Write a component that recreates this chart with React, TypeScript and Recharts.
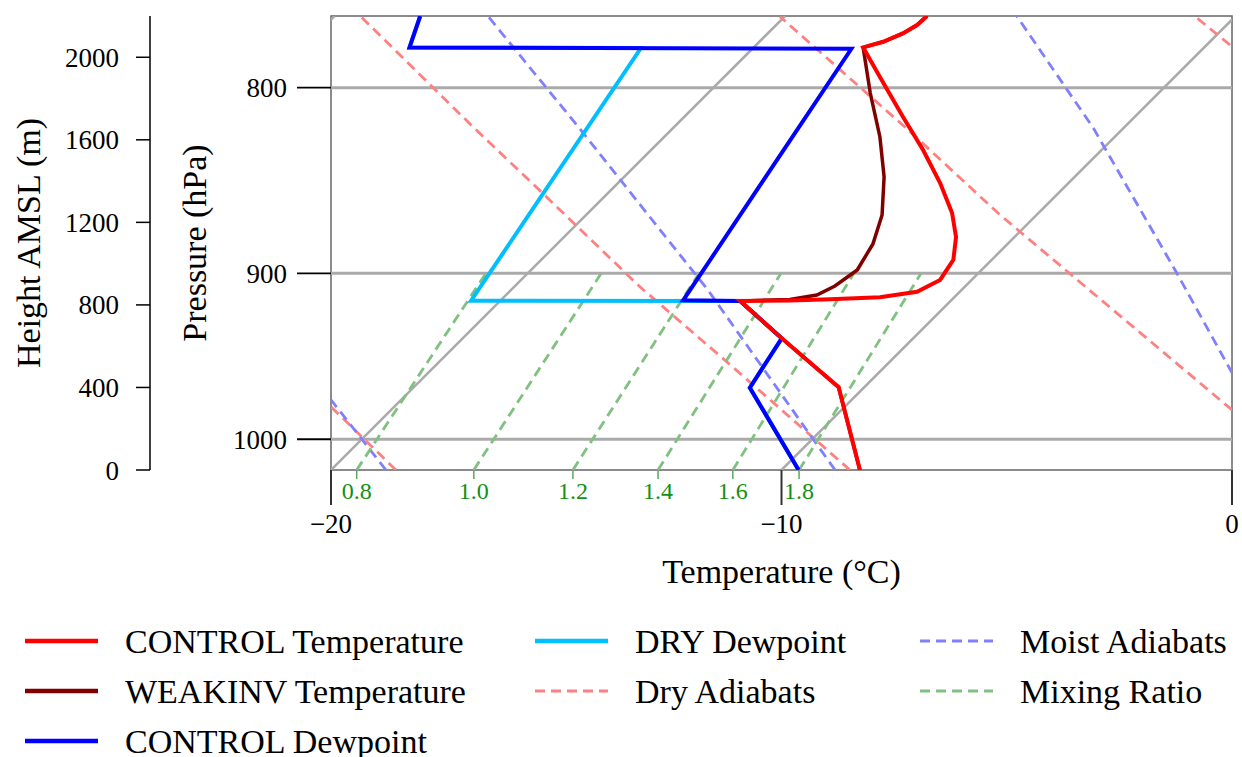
import React from "react";
import { LineChart, Line, XAxis, YAxis, ReferenceLine, ReferenceArea, Label } from "recharts";

const FONT = '"Liberation Serif", "Times New Roman", serif';

// pressure limits of the plot (hPa) and the skew of the temperature axis
const P_BOT = 1019.7;
const P_TOP = 764.4;
const SKEW = 34.98; // °C of horizontal shift per unit of ln(p)

const ISOBARS = [800, 900, 1000];
const ISOTHERMS = [-30, -20, -10, 0];
const TEMP_TICKS = [-20, -10, 0];
const HEIGHT_TICKS = [0, 400, 800, 1200, 1600, 2000];

// profiles: [pressure hPa, temperature °C]
const controlTemp = [
  [1019.7, -8.26], [967.5, -10.57], [937.9, -12.92], [916.0, -14.67],
  [915.7, -13.57], [915.0, -12.71], [913.8, -11.65], [910.6, -10.95],
  [903.8, -10.7], [892.4, -10.85], [879.5, -11.3], [866.2, -11.92],
  [849.9, -12.85], [832.3, -13.96], [815.0, -15.14], [794.6, -16.54],
  [779.8, -17.57], [777.0, -17.25], [772.9, -17.0], [768.8, -16.87], [764.4, -16.85],
];
const weakinvTemp = [
  [1019.7, -8.26], [967.5, -10.57], [937.9, -12.92], [916.0, -14.67],
  [915.1, -13.6], [912.5, -13.1], [907.3, -12.9], [898.1, -12.76],
  [883.4, -12.99], [867.3, -13.43], [846.6, -14.23], [825.4, -15.21],
  [802.7, -16.4], [779.8, -17.57], [777.0, -17.25], [772.9, -17.0], [768.8, -16.87], [764.4, -16.85],
];
const controlDew = [
  [1019.7, -9.62], [967.8, -12.53], [937.9, -12.92], [916.0, -14.67],
  [915.6, -15.95], [780.5, -17.8], [779.8, -27.64], [764.4, -28.1],
];
const dryDew = [
  [1019.7, -9.62], [967.8, -12.53], [937.9, -12.92], [916.0, -14.67],
  [915.8, -20.65], [780.1, -22.49], [779.8, -27.64], [764.4, -28.1],
];

// background lines: [pressure, temperature]
const dryAdiabats = [
  [[1019.7, -18.56], [979.5, -21.41]],
  [[1019.7, -8.48], [952.1, -13.61], [907.9, -17.2], [850.0, -21.9], [820.9, -24.4], [764.4, -29.43]],
  [[981.6, -1.33], [867.3, -10.81], [821.8, -14.73], [764.7, -20.1]],
  [[778.6, -9.48], [764.7, -10.88]],
];
const moistAdiabats = [
  [[1019.7, -18.78], [975.4, -21.55]],
  [[1019.7, -8.81], [1000, -9.98], [944.9, -13.36], [909.6, -15.63], [861.8, -19.02], [821.8, -22.0], [764.4, -26.6]],
  [[959.0, -2.14], [900, -5.59], [820.9, -10.66], [764.4, -14.86]],
];
const MIX_LABELS = ["0.8", "1.0", "1.2", "1.4", "1.6", "1.8"];
const MIX_T_BOTTOM = [-19.43, -16.83, -14.63, -12.74, -11.08, -9.61]; // at P_BOT
const MIX_T_900 = [-20.93, -18.37, -16.2, -14.38, -12.76, -11.27]; // at 900 hPa

const skewed = (pts: number[][]) =>
  pts.map(([p, t]) => ({ x: t + SKEW * Math.log(P_BOT / p), p }));

const GRID = "#aaaaaa";
const DRY = "#ff8080";
const MOIST = "#8080ff";
const MIX = "#80c080";
const DASH = "10 6";

const legendItems = [
  { label: "CONTROL Temperature", color: "#ff0000", dash: false },
  { label: "WEAKINV Temperature", color: "#800000", dash: false },
  { label: "CONTROL Dewpoint", color: "#0000ff", dash: false },
  { label: "DRY Dewpoint", color: "#00bfff", dash: false },
  { label: "Dry Adiabats", color: DRY, dash: true },
  { label: "Moist Adiabats", color: MOIST, dash: true },
  { label: "Mixing Ratio", color: MIX, dash: true },
];

const bg = (key: string, pts: number[][], color: string, width: number, dash?: string, xId = "t") => (
  <Line
    key={key}
    data={skewed(pts)}
    dataKey="p"
    xAxisId={xId}
    yAxisId="a"
    stroke={color}
    strokeWidth={width}
    strokeDasharray={dash}
    dot={false}
    activeDot={false}
    isAnimationActive={false}
    legendType="none"
  />
);

const Legend = () => {
  const colX = [25, 535, 920];
  const perCol = [3, 2, 2];
  let i = 0;
  const out: React.ReactNode[] = [];
  perCol.forEach((n, c) => {
    for (let r = 0; r < n; r++) {
      const it = legendItems[i++];
      const y = 641 + r * 50;
      out.push(
        <g key={it.label}>
          <line
            x1={colX[c]}
            x2={colX[c] + 73}
            y1={y}
            y2={y}
            stroke={it.color}
            strokeWidth={it.dash ? 3 : 4.5}
            strokeDasharray={it.dash ? DASH : undefined}
          />
          <text x={colX[c] + 100} y={y + 12} fontSize={34} fontFamily={FONT} fill="#000">
            {it.label}
          </text>
        </g>
      );
    }
  });
  return (
    <svg width={1242} height={757} style={{ position: "absolute", left: 0, top: 0, pointerEvents: "none" }}>
      {out}
    </svg>
  );
};

export default function App() {
  return (
    <div style={{ position: "absolute", left: 0, top: 0, width: 1242, height: 757, background: "#fff" }}>
      <LineChart width={1242} height={757} margin={{ top: 16, right: 10, bottom: 285, left: 0 }} style={{ fontFamily: FONT }}>
        <XAxis
          xAxisId="t"
          dataKey="x"
          type="number"
          domain={[-20, 0]}
          allowDataOverflow
          ticks={TEMP_TICKS}
          interval={0}
          height={1}
          tickSize={35}
          tickMargin={9}
          axisLine={false}
          tickLine={{ stroke: "#333", strokeWidth: 2 }}
          tick={{ fontSize: 27, fill: "#000", fontFamily: FONT }}
          tickFormatter={(v: number) => (v < 0 ? `\u2212${-v}` : `${v}`)}
        >
          <Label value="Temperature (°C)" position="bottom" offset={88} style={{ fontSize: 34, fill: "#000", fontFamily: FONT }} />
        </XAxis>
        <XAxis
          xAxisId="u"
          dataKey="x"
          type="number"
          domain={[-20, 0]}
          allowDataOverflow
          ticks={MIX_T_BOTTOM}
          interval={0}
          height={1}
          tickSize={8}
          tickMargin={3}
          axisLine={false}
          tickLine={{ stroke: "#5aa85a", strokeWidth: 1.5 }}
          tick={{ fontSize: 24, fill: "#119111", fontFamily: FONT }}
          tickFormatter={(v: number) => MIX_LABELS[MIX_T_BOTTOM.indexOf(v)] ?? ""}
        />
        <YAxis
          yAxisId="b"
          type="number"
          domain={[0, 2200]}
          allowDataOverflow
          ticks={HEIGHT_TICKS}
          interval={0}
          width={150}
          tickSize={14}
          tickMargin={17}
          axisLine={{ stroke: "#000", strokeWidth: 1.5 }}
          tickLine={{ stroke: "#000", strokeWidth: 1.5 }}
          tick={{ fontSize: 27, fill: "#000", fontFamily: FONT }}
        >
          <Label value="Height AMSL (m)" angle={-90} position="insideLeft" offset={28} style={{ textAnchor: "middle", fontSize: 34, fill: "#000", fontFamily: FONT }} />
        </YAxis>
        <YAxis
          yAxisId="a"
          type="number"
          scale="log"
          domain={[P_TOP, P_BOT]}
          allowDataOverflow
          reversed
          ticks={ISOBARS}
          interval={0}
          width={181}
          tickSize={34}
          tickMargin={10}
          axisLine={false}
          tickLine={{ stroke: "#000", strokeWidth: 1.8 }}
          tick={{ fontSize: 27, fill: "#000", fontFamily: FONT }}
        >
          <Label value="Pressure (hPa)" angle={-90} position="insideLeft" offset={44} style={{ textAnchor: "middle", fontSize: 34, fill: "#000", fontFamily: FONT }} />
        </YAxis>

        {ISOBARS.map((p) => (
          <ReferenceLine key={`ib${p}`} xAxisId="t" yAxisId="a" y={p} stroke={GRID} strokeWidth={3} />
        ))}
        {ISOTHERMS.map((t) => bg(`it${t}`, [[P_BOT, t], [P_TOP, t]], GRID, 2.5))}
        {dryAdiabats.map((pts, i) => bg(`da${i}`, pts, DRY, 2.8, DASH))}
        {moistAdiabats.map((pts, i) => bg(`ma${i}`, pts, MOIST, 2.8, DASH))}
        {MIX_LABELS.map((m, i) => bg(`mr${m}`, [[P_BOT, MIX_T_BOTTOM[i]], [900, MIX_T_900[i]]], MIX, 2.8, DASH, "u"))}

        {bg("dryDew", dryDew, "#00bfff", 4)}
        {bg("controlDew", controlDew, "#0000ff", 4)}
        {bg("weakinv", weakinvTemp, "#800000", 3.5)}
        {bg("controlT", controlTemp, "#ff0000", 4)}

        <ReferenceArea xAxisId="t" yAxisId="a" x1={-20} x2={0} y1={P_TOP} y2={P_BOT} fill="none" stroke="#666" strokeWidth={1.5} />
      </LineChart>
      <Legend />
    </div>
  );
}
